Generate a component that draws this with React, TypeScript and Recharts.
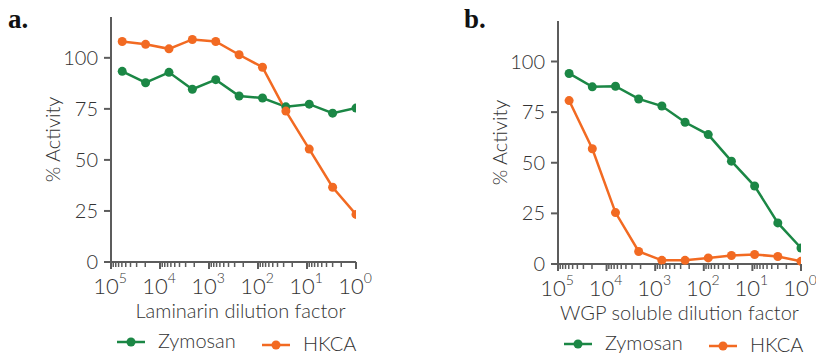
import React from "react";
import { LineChart, Line, XAxis, YAxis } from "recharts";

// 3-fold dilution series (dilution factor), most dilute first
const dilution = [59049, 19683, 6561, 2187, 729, 243, 81, 27, 9, 3, 1];

// panel a: Laminarin
const laminarinZymosan = [93.4, 87.8, 92.9, 84.6, 89.3, 81.3, 80.3, 76.0, 77.3, 72.9, 75.4];
const laminarinHkca = [108.0, 106.6, 104.4, 109.0, 108.0, 101.5, 95.4, 73.9, 55.3, 36.6, 23.3];

// panel b: WGP soluble
const wgpZymosan = [94.1, 87.5, 87.8, 81.5, 78.0, 70.0, 63.9, 50.8, 38.5, 20.3, 7.9];
const wgpHkca = [80.7, 56.9, 25.4, 6.2, 1.8, 1.8, 3.0, 4.2, 4.7, 3.7, 1.3];

const yTicks = [0, 25, 50, 75, 100];
const decades = [1, 10, 100, 1000, 10000, 100000];
const minorSteps = [2, 3, 4, 5, 6, 7, 8, 9];

const GREEN = "#1b8745";
const ORANGE = "#f26a22";
const AXIS = "#5c5c5c";
const TEXT = "#333333";
const FONT = "Lato, 'Open Sans', sans-serif";
const WEIGHT = 300;

const series = [
  { key: "zymosan", name: "Zymosan", color: GREEN },
  { key: "hkca", name: "HKCA", color: ORANGE },
];

const xTicks = [
  ...decades,
  ...decades.slice(0, -1).flatMap((d) => minorSteps.map((m) => m * d)),
].sort((a, b) => a - b);

const build = (zym: number[], hk: number[]) =>
  dilution.map((x, i) => ({ x, zymosan: zym[i], hkca: hk[i] }));

const dataA = build(laminarinZymosan, laminarinHkca);
const dataB = build(wgpZymosan, wgpHkca);

const LogTick = (props: any) => {
  const { x, y, payload } = props;
  const v = payload.value;
  const exp = Math.round(Math.log10(v));
  const major = Math.abs(Math.pow(10, exp) - v) < 1e-6;
  return (
    <g>
      <line x1={x} x2={x} y1={y} y2={y + (major ? 7 : 5)} stroke={AXIS} strokeWidth={major ? 2 : 1.5} />
      {major && (
        <text x={x - 1} y={y + 32} textAnchor="middle" fontFamily={FONT} fontWeight={WEIGHT} fontSize={22} fill={TEXT}>
          10
          <tspan dy={-11} fontSize={14}>
            {exp}
          </tspan>
        </text>
      )}
    </g>
  );
};

interface PanelProps {
  data: { x: number; zymosan: number; hkca: number }[];
  xTitle: string;
  letter: string;
  letterX: number;
  left: number;
  marginLeft: number;
  marginTop: number;
  marginRight: number;
  xAxisHeight: number;
  titleDx: number;
  legendX: number[];
  legendY: number[];
}

const Panel: React.FC<PanelProps> = (p) => (
  <div style={{ position: "absolute", left: p.left, top: 0, width: 408, height: 355 }}>
    <LineChart
      width={408}
      height={355}
      data={p.data}
      style={{ overflow: "visible" }}
      margin={{ top: p.marginTop, right: p.marginRight, bottom: 0, left: p.marginLeft }}
    >
      <XAxis
        dataKey="x"
        type="number"
        scale="log"
        domain={[1, 100000]}
        allowDataOverflow
        reversed
        ticks={xTicks}
        interval={0}
        tickLine={false}
        tickSize={0}
        tickMargin={0}
        height={p.xAxisHeight}
        axisLine={{ stroke: AXIS, strokeWidth: 2 }}
        tick={<LogTick />}
        label={{
          content: ({ viewBox }: any) => (
            <text
              x={viewBox.x + viewBox.width / 2 + p.titleDx}
              y={viewBox.y + 56}
              textAnchor="middle"
              fontFamily={FONT}
              fontWeight={WEIGHT}
              fontSize={20}
              fill={TEXT}
            >
              {p.xTitle}
            </text>
          ),
        }}
      />
      <YAxis
        type="number"
        domain={[0, 120]}
        ticks={yTicks}
        interval={0}
        width={111}
        tickSize={7}
        tickMargin={6}
        axisLine={{ stroke: AXIS, strokeWidth: 2 }}
        tickLine={{ stroke: AXIS, strokeWidth: 2 }}
        tick={{ fontFamily: FONT, fontWeight: WEIGHT, fontSize: 20, fill: TEXT }}
        label={{
          content: ({ viewBox }: any) => {
            const cx = viewBox.x + viewBox.width - 59;
            const cy = viewBox.y + viewBox.height / 2;
            return (
              <text
                x={cx}
                y={cy}
                transform={`rotate(-90, ${cx}, ${cy})`}
                textAnchor="middle"
                dominantBaseline="central"
                fontFamily={FONT}
                fontWeight={WEIGHT}
                fontSize={20}
                fill={TEXT}
              >
                % Activity
              </text>
            );
          },
        }}
      />
      {series.map((s) => (
        <Line
          key={s.key}
          dataKey={s.key}
          name={s.name}
          stroke={s.color}
          strokeWidth={2.5}
          dot={{ r: 4.5, fill: s.color, stroke: "none" }}
          isAnimationActive={false}
        />
      ))}
    </LineChart>
    <svg width={408} height={355} style={{ position: "absolute", left: 0, top: 0, pointerEvents: "none" }}>
      <text
        x={p.letterX}
        y={28}
        fontFamily="'Liberation Serif', 'DejaVu Serif', serif"
        fontWeight="bold"
        fontSize={27}
        fill="#111"
      >
        {p.letter}
      </text>
      {series.map((s, i) => (
        <g key={s.key}>
          <line
            x1={p.legendX[i]}
            x2={p.legendX[i] + 28}
            y1={p.legendY[i]}
            y2={p.legendY[i]}
            stroke={s.color}
            strokeWidth={2.5}
          />
          <circle cx={p.legendX[i] + 14} cy={p.legendY[i]} r={4.5} fill={s.color} />
          <text
            x={p.legendX[i] + 41}
            y={p.legendY[i] + 6}
            fontFamily={FONT}
            fontWeight={WEIGHT}
            fontSize={20}
            fill={TEXT}
          >
            {s.name}
          </text>
        </g>
      ))}
    </svg>
  </div>
);

export default function App() {
  return (
    <div style={{ position: "absolute", left: 0, top: 0, width: 816, height: 355, background: "#fff" }}>
      <Panel
        data={dataA}
        xTitle="Laminarin dilution factor"
        letter="a."
        letterX={8}
        left={0}
        marginLeft={0}
        marginTop={17}
        marginRight={52}
        xAxisHeight={93}
        titleDx={7}
        legendX={[117, 262]}
        legendY={[342, 345]}
      />
      <Panel
        data={dataB}
        xTitle="WGP soluble dilution factor"
        letter="b."
        letterX={56}
        left={408}
        marginLeft={39}
        marginTop={21}
        marginRight={15}
        xAxisHeight={91}
        titleDx={0}
        legendX={[156, 301]}
        legendY={[344, 346]}
      />
    </div>
  );
}
